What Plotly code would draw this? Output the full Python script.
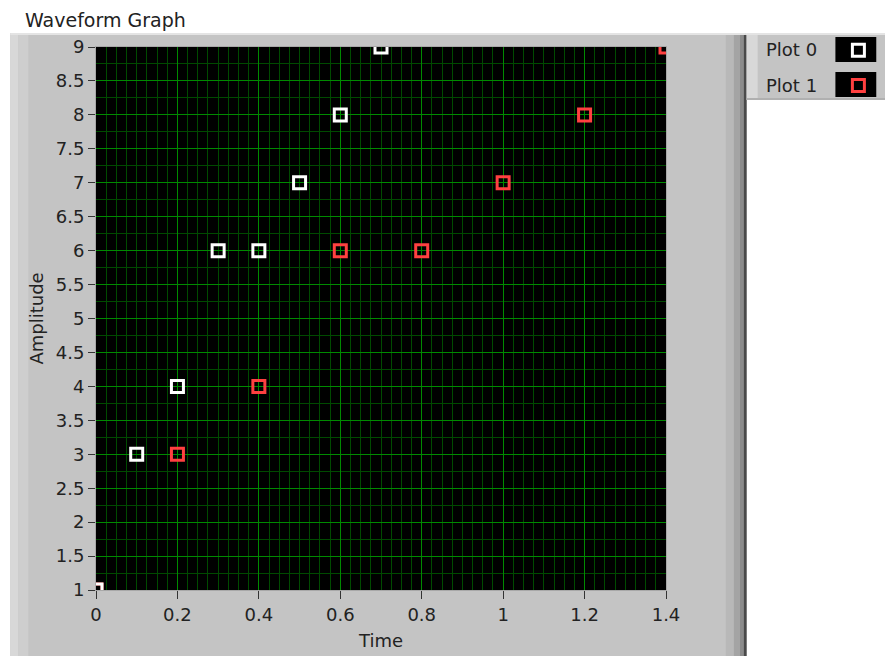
import plotly.graph_objects as go

# ---- data ----
amplitude = [1, 3, 4, 6, 6, 7, 8, 9]
time_plot0 = [0.0, 0.1, 0.2, 0.3, 0.4, 0.5, 0.6, 0.7]
time_plot1 = [0.0, 0.2, 0.4, 0.6, 0.8, 1.0, 1.2, 1.4]
series_names = ["Plot 0", "Plot 1"]
series_colors = ["#FFFFFF", "#FF4040"]
x_ticks = [0, 0.2, 0.4, 0.6, 0.8, 1, 1.2, 1.4]
x_tick_labels = ["0", "0.2", "0.4", "0.6", "0.8", "1", "1.2", "1.4"]
y_ticks = [1, 1.5, 2, 2.5, 3, 3.5, 4, 4.5, 5, 5.5, 6, 6.5, 7, 7.5, 8, 8.5, 9]
y_tick_labels = ["1", "1.5", "2", "2.5", "3", "3.5", "4", "4.5", "5", "5.5",
                 "6", "6.5", "7", "7.5", "8", "8.5", "9"]

OFF = 8  # body margin of the html page
W, H = 893, 656
# plot area in page pixels
L, R, T, B = 96, 668, 47, 590
Lf, Rf, Tf, Bf = L - OFF, R - OFF, T - OFF, B - OFF


def px(x):
    return (x - L) / (R - L)


def py(y):
    return (B - y) / (B - T)


FONT = "DejaVu Sans"

fig = go.Figure()
# Plot 1 first so Plot 0 drawn on top
for xs, name, col, rank in [(time_plot1, series_names[1], series_colors[1], 2),
                            (time_plot0, series_names[0], series_colors[0], 1)]:
    fig.add_trace(go.Scatter(
        x=xs, y=amplitude, mode="markers", name=" ",
        legendgroup=name, legendrank=rank,
        marker=dict(symbol="square-open", size=12, color=col,
                    line=dict(width=3, color=col)),
        hovertemplate=name + ": %{x}, %{y}<extra></extra>",
    ))

shapes = []


def rect(x0, y0, x1, y1, color, layer="below"):
    shapes.append(dict(type="rect", xref="paper", yref="paper",
                       x0=px(x0), x1=px(x1), y0=py(y1), y1=py(y0),
                       fillcolor=color, line=dict(width=0), layer=layer))


# main gray panel
rect(10, 33, 748, 670, "#C4C4C4")
rect(10, 33, 18, 670, "#D8D8D8")
rect(18, 33, 28, 670, "#CECECE")
rect(10, 33, 748, 35, "#E4E4E4")
rect(728, 35, 736, 670, "#B8B8B8")
rect(736, 35, 742, 670, "#A4A4A4")
rect(742, 35, 746, 670, "#8C8C8C")
rect(746, 35, 749, 670, "#4A4A4A")
# legend panel
rect(749, 33, 910, 100, "#C4C4C4")
rect(749, 33, 760, 100, "#D8D8D8")
rect(749, 33, 910, 35, "#E4E4E4")
rect(749, 98, 910, 100, "#B0B0B0")
# plot background
shapes.append(dict(type="rect", xref="paper", yref="paper", x0=0, x1=1, y0=0, y1=1,
                   fillcolor="#000000", line=dict(width=0), layer="below"))
# legend icon boxes
rect(838, 37, 879, 62, "#000000", layer="above")
rect(838, 72, 879, 97, "#000000", layer="above")

annotations = [
    dict(text="Waveform Graph", xref="paper", yref="paper", x=px(23), y=py(7),
         xanchor="left", yanchor="top", showarrow=False,
         font=dict(family=FONT, size=19, color="#222222")),
    dict(text=series_names[0], xref="paper", yref="paper", x=px(822), y=py(50),
         xanchor="right", yanchor="middle", showarrow=False,
         font=dict(family=FONT, size=18, color="#222222")),
    dict(text=series_names[1], xref="paper", yref="paper", x=px(822), y=py(85),
         xanchor="right", yanchor="middle", showarrow=False,
         font=dict(family=FONT, size=18, color="#222222")),
]

fig.update_layout(
    width=W, height=H,
    margin=dict(l=Lf, r=W - Rf, t=Tf, b=H - Bf, pad=0),
    paper_bgcolor="#FFFFFF",
    plot_bgcolor="#000000",
    font=dict(family=FONT, size=18, color="#222222"),
    shapes=shapes,
    annotations=annotations,
    showlegend=True,
    legend=dict(x=px(841), y=py(32), xanchor="left", yanchor="top",
                bgcolor="rgba(0,0,0,0)", borderwidth=0,
                tracegroupgap=9, font=dict(size=18),
                itemclick=False, itemdoubleclick=False),
)

fig.update_xaxes(
    range=[0, 1.4], tickvals=x_ticks, ticktext=x_tick_labels,
    showgrid=True, gridcolor="#008A00", gridwidth=1,
    minor=dict(dtick=0.025, showgrid=True, gridcolor="#004A00", gridwidth=1),
    zeroline=False, showline=True, linecolor="#A8A8A8", mirror=True,
    ticks="outside", ticklen=8, tickcolor="#333333", tickwidth=1,
    tickfont=dict(family=FONT, size=18, color="#222222"),
    title=dict(text="Time", font=dict(family=FONT, size=18, color="#222222"),
               standoff=10),
)
fig.update_yaxes(
    range=[1, 9], tickvals=y_ticks, ticktext=y_tick_labels,
    showgrid=True, gridcolor="#008A00", gridwidth=1,
    minor=dict(dtick=0.25, showgrid=True, gridcolor="#004A00", gridwidth=1),
    zeroline=False, showline=True, linecolor="#A8A8A8", mirror=True,
    ticks="outside", ticklen=7, tickcolor="#333333", tickwidth=1,
    tickfont=dict(family=FONT, size=18, color="#222222"),
    title=dict(text="Amplitude", font=dict(family=FONT, size=18, color="#222222"),
               standoff=7),
)

fig.write_html("out.html")
